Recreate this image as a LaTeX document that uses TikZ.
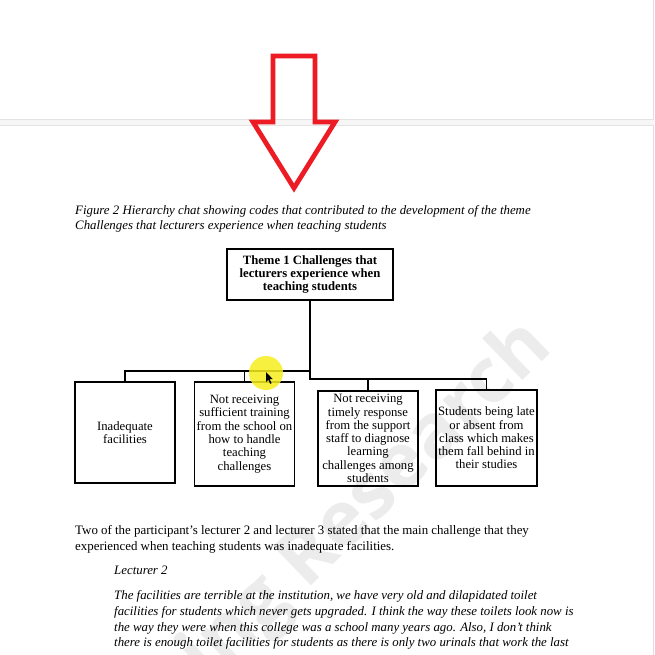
\documentclass[tikz,border=0pt]{standalone}
\usepackage{fontspec}
\setmainfont{Liberation Serif}
\newfontfamily\wmfont{Open Sans}
\usetikzlibrary{positioning}
\definecolor{paintred}{HTML}{ED1C24}
\definecolor{marker}{HTML}{F7EE1E}

\begin{document}
\begin{tikzpicture}[
        x=1pt, y=-1pt,
        theme/.style={draw, line width=1.4pt, rectangle, minimum width=166pt, minimum height=51pt, align=center, inner sep=0pt, font=\fontsize{12.7}{13}\selectfont\bfseries},
        code/.style={draw, line width=1.4pt, rectangle, minimum width=100pt, align=center, inner sep=0pt, font=\fontsize{12.7}{13.3}\selectfont},
        link/.style={line width=1.8pt},
        caption/.style={anchor=base west, inner sep=0pt, font=\fontsize{12.85}{15}\selectfont\itshape},
        body/.style={anchor=base west, inner sep=0pt, font=\fontsize{12.9}{15}\selectfont}
    ]

    % Page background
    \fill[white] (0,0) rectangle (654,655);
    \useasboundingbox (0,0) rectangle (654,655);

    % Watermark
    \node[rotate=44, text=gray!15, font=\wmfont\bfseries\fontsize{76}{76}\selectfont] (WM) at (368,503) {ing Research};

    % Page break
    \fill[gray!7] (0,119.5) rectangle (654,125);
    \draw[gray!22, line width=0.8pt] (0,119.5) -- (654,119.5) (0,125) -- (654,125);
    \draw[gray!25, line width=0.8pt] (653.5,0) -- (653.5,119.5) (653.5,125) -- (653.5,655);

    % Caption
    \node[caption] (Cap1) at (75,214) {Figure 2 Hierarchy chat showing codes that contributed to the development of the theme};
    \node[caption] (Cap2) at (75,229) {Challenges that lecturers experience when teaching students};

    % Theme and codes
    \node[theme] (T) at (310,274.5) {Theme 1 Challenges that\\lecturers experience when\\teaching students};
    \node[code, minimum height=101pt] (C1) at (125,432.5) {Inadequate\\facilities};
    \node[code, minimum height=104pt] (C2) at (244.5,434) {Not receiving\\sufficient training\\from the school on\\how to handle\\teaching\\challenges};
    \node[code, minimum height=95pt] (C3) at (368,438.5) {Not receiving\\timely response\\from the support\\staff to diagnose\\learning\\challenges among\\students};
    \node[code, minimum height=96pt, minimum width=101pt] (C4) at (486.5,438) {Students being late\\or absent from\\class which makes\\them fall behind in\\their studies};

    % Connectors
    \coordinate (busA) at (310,371);
    \coordinate (busB) at (310,379);
    \draw[link] (T.south) -- (busA);
    \draw[link] (C1.north) |- (busA) -- (busB) -| (C4.north);
    \draw[link] (C2.north) |- (busA);
    \draw[link] (C3.north) |- (busB);

    % Text below the chart
    \node[body] (B1) at (75,534) {Two of the participant’s lecturer 2 and lecturer 3 stated that the main challenge that they};
    \node[body] (B2) at (75,550) {experienced when teaching students was inadequate facilities.};
    \node[caption] (L2) at (114,574) {Lecturer 2};
    \node[caption] (Q1) at (114,599) {The facilities are terrible at the institution, we have very old and dilapidated toilet};
    \node[caption] (Q2) at (114,615) {facilities for students which never gets upgraded. I think the way these toilets look now is};
    \node[caption] (Q3) at (114,631) {the way they were when this college was a school many years ago. Also, I don’t think};
    \node[caption] (Q4) at (114,646) {there is enough toilet facilities for students as there is only two urinals that work the last};

    % Cursor highlight
    \fill[marker, opacity=0.85] (266,373) circle (17);
    \fill[black] (266,372) -- (266,382) -- (268.3,379.8) -- (270.2,383.8) -- (271.6,383.1) -- (269.7,379.2) -- (272.8,379.2) -- cycle;

    % Red arrow
    \draw[paintred, line width=4.8pt, line join=miter] (273,56) -- (315,56) -- (315,122) -- (335,122) -- (294,188) -- (253,122) -- (273,122) -- cycle;

\end{tikzpicture}
\end{document}
